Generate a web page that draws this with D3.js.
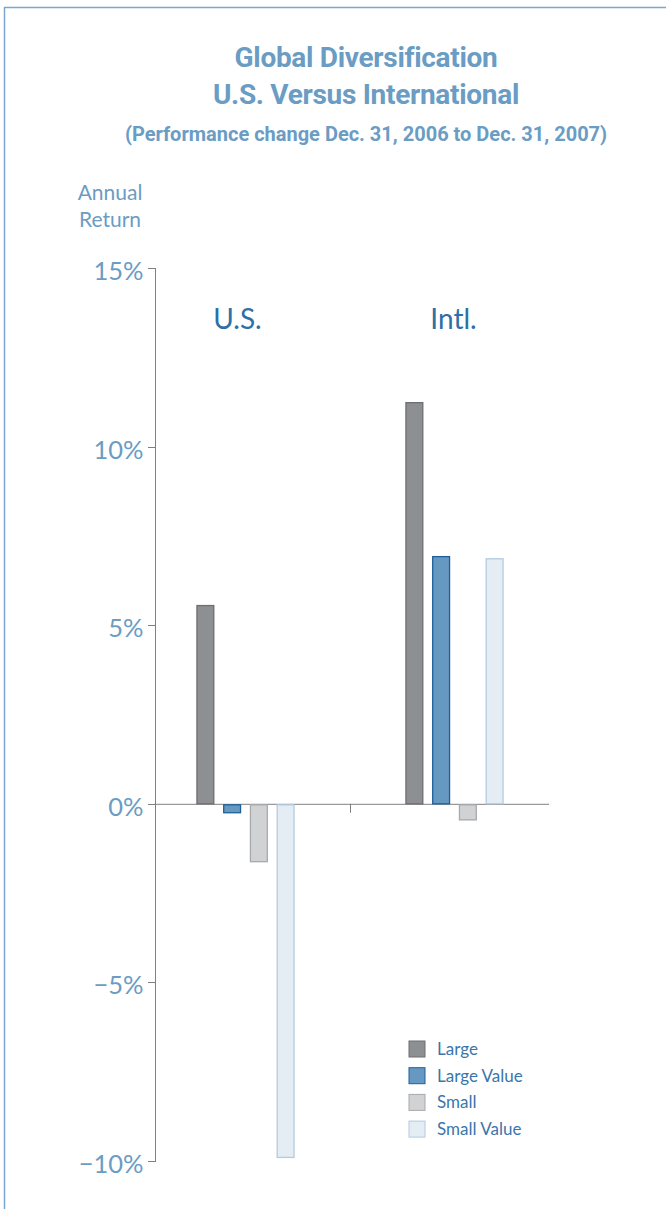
<!DOCTYPE html>
<html>
<head>
<meta charset="utf-8">
<title>Global Diversification</title>
<script src="https://cdn.jsdelivr.net/npm/d3@7"></script>
<style>
body { margin: 0; background: #fff; }
.title { font-family: "Roboto", sans-serif; font-weight: bold; fill: #6a9cc4; }
.axis text { font-family: "Lato", "Noto Sans", sans-serif; fill: #6a9cc4; }
.axis path, .axis line { stroke: #808080; fill: none; shape-rendering: crispEdges; }
.legend text { font-family: "Lato", sans-serif; fill: #3a76ab; font-size: 17px; }
</style>
</head>
<body>
<script>

// data
var groups = ["U.S.", "Intl."];
var series = ["Large", "Large Value", "Small", "Small Value"];
var usValues = [5.55, -0.25, -1.62, -9.9];
var intlValues = [11.23, 6.92, -0.45, 6.86];
var yTicks = [15, 10, 5, 0, -5, -10];

var fills = ["#8e8f93", "#6699c2", "#d1d2d4", "#e4ecf4"];
var strokes = ["#6d6e71", "#1f5f99", "#a8a9ab", "#b3cadf"];

var width = 666, height = 1209;

var svg = d3.select("body").append("svg")
    .attr("width", width)
    .attr("height", height);

// frame lines (top + left)
svg.append("line").attr("x1", 4).attr("x2", width).attr("y1", 7.5).attr("y2", 7.5)
    .attr("stroke", "#7aa7cf").attr("stroke-width", 1.5);
svg.append("line").attr("x1", 4.5).attr("x2", 4.5).attr("y1", 7).attr("y2", height)
    .attr("stroke", "#7aa7cf").attr("stroke-width", 1.5);

// titles
svg.append("text").attr("class", "title")
    .attr("x", 366).attr("y", 67).attr("text-anchor", "middle")
    .style("font-size", "28px").style("letter-spacing", "-0.3px").text("Global Diversification");
svg.append("text").attr("class", "title")
    .attr("x", 366).attr("y", 104).attr("text-anchor", "middle")
    .style("font-size", "28px").style("letter-spacing", "-0.3px").text("U.S. Versus International");
svg.append("text").attr("class", "title")
    .attr("x", 366).attr("y", 141).attr("text-anchor", "middle")
    .style("font-size", "20px").text("(Performance change Dec. 31, 2006 to Dec. 31, 2007)");

svg.append("text").attr("x", 110).attr("y", 200).attr("text-anchor", "middle")
    .style("font-family", "Lato, sans-serif").style("font-size", "21px").style("fill", "#6a9cc4")
    .text("Annual");
svg.append("text").attr("x", 110).attr("y", 227).attr("text-anchor", "middle")
    .style("font-family", "Lato, sans-serif").style("font-size", "21px").style("fill", "#6a9cc4")
    .text("Return");

// scales
var y = d3.scaleLinear().domain([-10, 15]).range([1161, 268]);
var x0 = d3.scaleBand().domain(groups).range([141, 559]);
var x1 = d3.scaleBand().domain(series).range([-53.5, 53.5])
    .paddingInner(0.37).paddingOuter(0.185);

// y axis
var yAxis = svg.append("g")
    .attr("class", "axis")
    .attr("transform", "translate(154.5,0)")
    .call(d3.axisLeft(y).tickValues(yTicks).tickSize(7).tickPadding(4)
        .tickFormat(function(d) { return (d < 0 ? "\u2212" + Math.abs(d) : d) + "%"; }));
yAxis.selectAll("text").style("font-size", "25.5px").attr("dy", "0.45em");

// zero line
svg.append("line")
    .attr("x1", 154).attr("x2", 549)
    .attr("y1", y(0) + 0.5).attr("y2", y(0) + 0.5)
    .attr("stroke", "#808080");
// group divider tick
svg.append("line")
    .attr("x1", x0("Intl.") + 0.5).attr("x2", x0("Intl.") + 0.5)
    .attr("y1", y(0)).attr("y2", y(0) + 9)
    .attr("stroke", "#808080");

// group labels
var labelShift = [-8, -1];
svg.selectAll(".glabel")
    .data(groups)
  .enter().append("text")
    .attr("class", "glabel")
    .attr("x", function(d, i) { return x0(d) + x0.bandwidth() / 2 + labelShift[i]; })
    .attr("y", 329)
    .attr("text-anchor", "middle")
    .style("font-family", "Lato, sans-serif")
    .style("font-size", "28px")
    .style("fill", "#2f6fa5")
    .text(function(d) { return d; });

// bars
var rows = [usValues, intlValues];
groups.forEach(function(g, gi) {
    var gEl = svg.append("g")
        .attr("transform", "translate(" + (x0(g) + x0.bandwidth() / 2) + ",0)");
    gEl.selectAll("rect")
        .data(rows[gi])
      .enter().append("rect")
        .attr("x", function(d, i) { return x1(series[i]); })
        .attr("width", x1.bandwidth())
        .attr("y", function(d) { return d >= 0 ? y(d) : y(0) + 1; })
        .attr("height", function(d) { return d >= 0 ? y(0) - y(d) : y(d) - y(0) - 1; })
        .attr("fill", function(d, i) { return fills[i]; })
        .attr("stroke", function(d, i) { return strokes[i]; })
        .attr("stroke-width", 1.3);
});

// legend
var legend = svg.append("g").attr("class", "legend")
    .attr("transform", "translate(409,1041)");
var item = legend.selectAll("g")
    .data(series)
  .enter().append("g")
    .attr("transform", function(d, i) { return "translate(0," + (i * 26.7) + ")"; });
item.append("rect")
    .attr("width", 16).attr("height", 16)
    .attr("fill", function(d, i) { return fills[i]; })
    .attr("stroke", function(d, i) { return strokes[i]; });
item.append("text")
    .attr("x", 28).attr("y", 14)
    .text(function(d) { return d; });

</script>
</body>
</html>
